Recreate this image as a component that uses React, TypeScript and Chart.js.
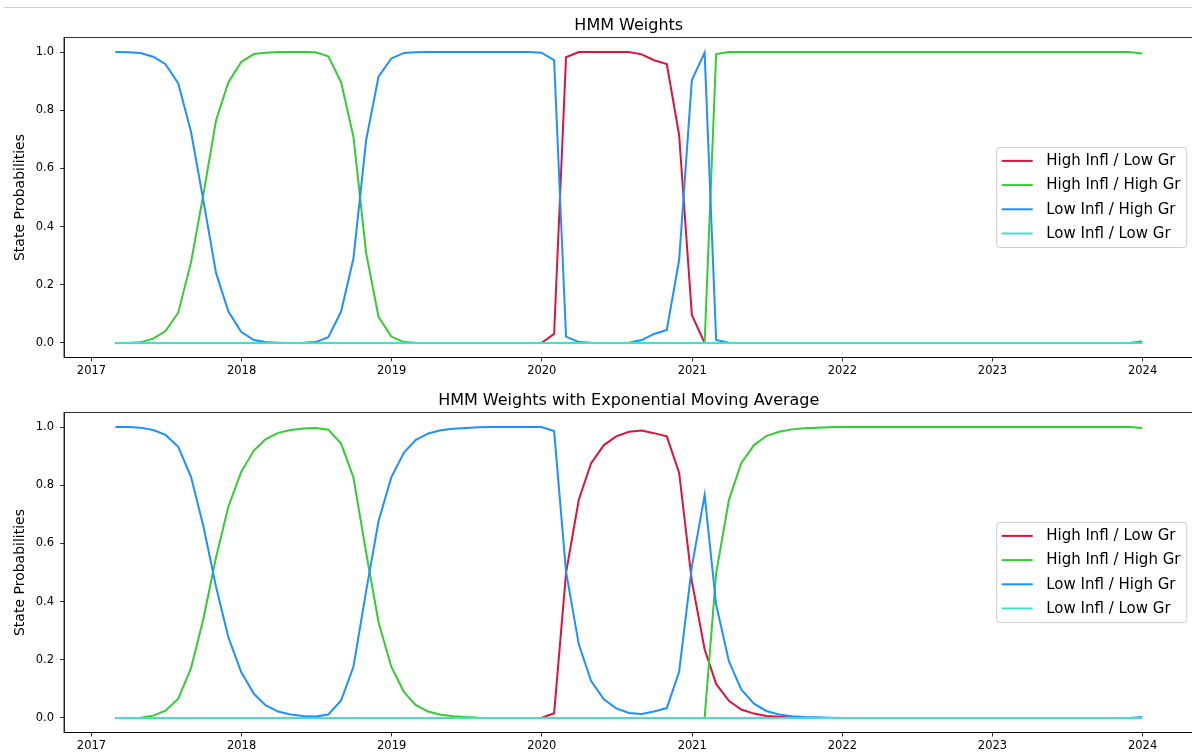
import React, { useEffect, useRef } from "react";
import { Chart, registerables } from "chart.js";
Chart.register(...registerables);

// ---- categories: month-end dates from Feb 2017 to Dec 2023 ----
const START_YEAR = 2017;
const START_MONTH = 2; // February
const N_MONTHS = 83;
const YEAR_TICKS = [2017, 2018, 2019, 2020, 2021, 2022, 2023, 2024];
const Y_TICKS = [0.0, 0.2, 0.4, 0.6, 0.8, 1.0];

const SERIES_NAMES = ["High Infl / Low Gr", "High Infl / High Gr", "Low Infl / High Gr", "Low Infl / Low Gr"];
const SERIES_COLORS = ["#DC143C", "#32CD32", "#1E90FF", "#40E0D0"];

const TITLE_TOP = "HMM Weights";
const TITLE_BOTTOM = "HMM Weights with Exponential Moving Average";
const Y_LABEL = "State Probabilities";

// ---- raw HMM weights ----
const rawHighInflLowGr = [
  0, 0, 0, 0, 0, 0, 0, 0, 0, 0,
  0, 0, 0, 0, 0, 0, 0, 0, 0, 0,
  0, 0, 0, 0, 0, 0, 0, 0, 0, 0,
  0, 0, 0, 0, 0, 0.031, 0.982, 1.0, 1.0, 1.0,
  1.0, 1.0, 0.992, 0.972, 0.959, 0.715, 0.096, 0, 0, 0,
  0, 0, 0, 0, 0, 0, 0, 0, 0, 0,
  0, 0, 0, 0, 0, 0, 0, 0, 0, 0,
  0, 0, 0, 0, 0, 0, 0, 0, 0, 0,
  0, 0, 0,
];
const rawHighInflHighGr = [
  0, 0, 0.002, 0.015, 0.041, 0.104, 0.277, 0.51, 0.766, 0.896,
  0.966, 0.993, 0.998, 1.0, 1.0, 1.0, 0.999, 0.985, 0.896, 0.709,
  0.308, 0.09, 0.022, 0.003, 0.001, 0, 0, 0, 0, 0,
  0, 0, 0, 0, 0, 0, 0, 0, 0, 0,
  0, 0, 0, 0, 0, 0, 0, 0, 0.993, 1.0,
  1.0, 1.0, 1.0, 1.0, 1.0, 1.0, 1.0, 1.0, 1.0, 1.0,
  1.0, 1.0, 1.0, 1.0, 1.0, 1.0, 1.0, 1.0, 1.0, 1.0,
  1.0, 1.0, 1.0, 1.0, 1.0, 1.0, 1.0, 1.0, 1.0, 1.0,
  1.0, 1.0, 0.995,
];
const rawLowInflHighGr = [
  1.0, 0.999, 0.997, 0.984, 0.958, 0.892, 0.726, 0.49, 0.24, 0.108,
  0.038, 0.01, 0.003, 0.001, 0, 0.001, 0.003, 0.02, 0.108, 0.29,
  0.698, 0.915, 0.978, 0.997, 0.999, 1.0, 1.0, 1.0, 1.0, 1.0,
  1.0, 1.0, 1.0, 1.0, 0.998, 0.972, 0.022, 0.003, 0.001, 0,
  0, 0.001, 0.01, 0.031, 0.045, 0.285, 0.904, 0.998, 0.01, 0.001,
  0, 0, 0, 0, 0, 0, 0, 0, 0, 0,
  0, 0, 0, 0, 0, 0, 0, 0, 0, 0,
  0, 0, 0, 0, 0, 0, 0, 0, 0, 0,
  0, 0, 0.005,
];
const rawLowInflLowGr = [
  0, 0, 0, 0, 0, 0, 0, 0, 0, 0,
  0, 0, 0, 0, 0, 0, 0, 0, 0, 0,
  0, 0, 0, 0, 0, 0, 0, 0, 0, 0,
  0, 0, 0, 0, 0, 0, 0, 0, 0, 0,
  0, 0, 0, 0, 0, 0, 0, 0, 0, 0,
  0, 0, 0, 0, 0, 0, 0, 0, 0, 0,
  0, 0, 0, 0, 0, 0, 0, 0, 0, 0,
  0, 0, 0, 0, 0, 0, 0, 0, 0, 0,
  0, 0, 0,
];

// ---- EMA-smoothed weights ----
const emaHighInflLowGr = [
  0, 0, 0, 0, 0, 0, 0, 0, 0, 0,
  0, 0, 0, 0, 0, 0, 0, 0, 0, 0,
  0, 0, 0, 0, 0, 0, 0, 0, 0, 0,
  0, 0, 0, 0, 0, 0.016, 0.499, 0.75, 0.876, 0.938,
  0.968, 0.984, 0.988, 0.979, 0.968, 0.843, 0.47, 0.236, 0.117, 0.059,
  0.029, 0.015, 0.007, 0.004, 0.002, 0.001, 0, 0, 0, 0,
  0, 0, 0, 0, 0, 0, 0, 0, 0, 0,
  0, 0, 0, 0, 0, 0, 0, 0, 0, 0,
  0, 0, 0,
];
const emaHighInflHighGr = [
  0, 0, 0.001, 0.008, 0.025, 0.066, 0.171, 0.34, 0.553, 0.727,
  0.846, 0.919, 0.958, 0.98, 0.99, 0.995, 0.997, 0.991, 0.943, 0.827,
  0.567, 0.33, 0.176, 0.089, 0.045, 0.022, 0.011, 0.006, 0.003, 0.001,
  0, 0, 0, 0, 0, 0, 0, 0, 0, 0,
  0, 0, 0, 0, 0, 0, 0, 0, 0.497, 0.749,
  0.876, 0.938, 0.969, 0.984, 0.992, 0.996, 0.998, 0.999, 1.0, 1.0,
  1.0, 1.0, 1.0, 1.0, 1.0, 1.0, 1.0, 1.0, 1.0, 1.0,
  1.0, 1.0, 1.0, 1.0, 1.0, 1.0, 1.0, 1.0, 1.0, 1.0,
  1.0, 1.0, 0.997,
];
const emaLowInflHighGr = [
  1.0, 1.0, 0.998, 0.99, 0.973, 0.932, 0.829, 0.66, 0.45, 0.277,
  0.158, 0.083, 0.044, 0.022, 0.012, 0.007, 0.005, 0.012, 0.06, 0.176,
  0.437, 0.676, 0.827, 0.912, 0.955, 0.978, 0.989, 0.994, 0.997, 0.999,
  1.0, 1.0, 1.0, 1.0, 1.0, 0.986, 0.503, 0.253, 0.127, 0.064,
  0.033, 0.017, 0.014, 0.022, 0.034, 0.159, 0.52, 0.766, 0.39, 0.195,
  0.098, 0.049, 0.024, 0.012, 0.006, 0.003, 0.002, 0.001, 0, 0,
  0, 0, 0, 0, 0, 0, 0, 0, 0, 0,
  0, 0, 0, 0, 0, 0, 0, 0, 0, 0,
  0, 0, 0.003,
];
const emaLowInflLowGr = [
  0, 0, 0, 0, 0, 0, 0, 0, 0, 0,
  0, 0, 0, 0, 0, 0, 0, 0, 0, 0,
  0, 0, 0, 0, 0, 0, 0, 0, 0, 0,
  0, 0, 0, 0, 0, 0, 0, 0, 0, 0,
  0, 0, 0, 0, 0, 0, 0, 0, 0, 0,
  0, 0, 0, 0, 0, 0, 0, 0, 0, 0,
  0, 0, 0, 0, 0, 0, 0, 0, 0, 0,
  0, 0, 0, 0, 0, 0, 0, 0, 0, 0,
  0, 0, 0,
];

const DAY = 86400000;
const FONT = "'DejaVu Sans', 'Liberation Sans', sans-serif";

function monthEndDays(): number[] {
  const out: number[] = [];
  for (let i = 0; i < N_MONTHS; i++) {
    const m0 = START_MONTH - 1 + i;
    const y = START_YEAR + Math.floor(m0 / 12);
    const m = m0 % 12;
    out.push(Date.UTC(y, m + 1, 0) / DAY);
  }
  return out;
}

const CANVAS_W = 1200;
const CANVAS_H = 378;

function makeChart(canvas: HTMLCanvasElement, series: number[][], title: string) {
  const xs = monthEndDays();
  const first = xs[0];
  const last = xs[xs.length - 1];
  const span = last - first;
  const xMin = first - 0.05 * span;
  const xMax = last + 0.05 * span;

  const orders = [3, 2, 1, 0];
  const datasets = series.map((vals, k) => ({
    label: SERIES_NAMES[k],
    data: vals.map((v, i) => ({ x: xs[i], y: v })),
    borderColor: SERIES_COLORS[k],
    backgroundColor: SERIES_COLORS[k],
    borderWidth: 2,
    pointRadius: 0,
    tension: 0,
    fill: false,
    order: orders[k],
  }));

  const deco = {
    id: "deco",
    afterDraw(chart: any) {
      const { ctx, chartArea } = chart;
      const { left, right, top, bottom } = chartArea;
      ctx.save();
      // frame
      ctx.strokeStyle = "#000";
      ctx.lineWidth = 0.8;
      ctx.strokeRect(left, top, right - left, bottom - top);
      // title
      ctx.fillStyle = "#000";
      ctx.font = `16px ${FONT}`;
      ctx.textAlign = "center";
      ctx.textBaseline = "alphabetic";
      ctx.fillText(title, (left + right) / 2, top - 7.5);
      // y label
      ctx.save();
      ctx.translate(20, (top + bottom) / 2);
      ctx.rotate(-Math.PI / 2);
      ctx.font = `14px ${FONT}`;
      ctx.textAlign = "center";
      ctx.textBaseline = "middle";
      ctx.fillText(Y_LABEL, 0, 0);
      ctx.restore();
      // legend
      const boxW = 190;
      const boxH = 100;
      const boxR = right - 6.8;
      const boxL = boxR - boxW;
      const cy = (top + bottom) / 2;
      const boxT = cy - boxH / 2;
      const r = 3;
      ctx.beginPath();
      ctx.moveTo(boxL + r, boxT);
      ctx.lineTo(boxR - r, boxT);
      ctx.arcTo(boxR, boxT, boxR, boxT + r, r);
      ctx.lineTo(boxR, boxT + boxH - r);
      ctx.arcTo(boxR, boxT + boxH, boxR - r, boxT + boxH, r);
      ctx.lineTo(boxL + r, boxT + boxH);
      ctx.arcTo(boxL, boxT + boxH, boxL, boxT + boxH - r, r);
      ctx.lineTo(boxL, boxT + r);
      ctx.arcTo(boxL, boxT, boxL + r, boxT, r);
      ctx.closePath();
      ctx.fillStyle = "rgba(255,255,255,0.8)";
      ctx.fill();
      ctx.strokeStyle = "#cccccc";
      ctx.lineWidth = 1;
      ctx.stroke();
      ctx.font = `15px ${FONT}`;
      ctx.textAlign = "left";
      ctx.textBaseline = "middle";
      SERIES_NAMES.forEach((name, k) => {
        const ry = cy - 36.6 + k * 24.2;
        ctx.strokeStyle = SERIES_COLORS[k];
        ctx.lineWidth = 2;
        ctx.beginPath();
        ctx.moveTo(boxL + 5, ry);
        ctx.lineTo(boxL + 36, ry);
        ctx.stroke();
        ctx.fillStyle = "#000";
        ctx.fillText(name, boxL + 49.5, ry + 0.5);
      });
      ctx.restore();
    },
  };

  return new Chart(canvas, {
    type: "line",
    data: { datasets },
    plugins: [deco],
    options: {
      animation: false,
      responsive: false,
      maintainAspectRatio: false,
      parsing: true,
      layout: { padding: { top: 37.5, left: 0, right: CANVAS_W - 1193.5, bottom: 0 } },
      plugins: { legend: { display: false }, tooltip: { enabled: false }, title: { display: false } },
      scales: {
        x: {
          type: "linear",
          min: xMin,
          max: xMax,
          afterBuildTicks: (s: any) => {
            s.ticks = YEAR_TICKS.map((y) => ({ value: Date.UTC(y, 0, 1) / DAY }));
          },
          afterFit: (s: any) => {
            s.height = CANVAS_H - 357.5;
          },
          ticks: {
            autoSkip: false,
            maxRotation: 0,
            padding: 3,
            color: "#000",
            font: { family: FONT, size: 11.5 },
            callback: (v: any) => String(new Date(Number(v) * DAY).getUTCFullYear()),
          },
          grid: { drawOnChartArea: false, drawTicks: true, tickLength: 4, color: "#000", lineWidth: 0.8 },
          border: { display: true, color: "#000", width: 0.8 },
        },
        y: {
          type: "linear",
          min: -0.05,
          max: 1.05,
          afterBuildTicks: (s: any) => {
            s.ticks = Y_TICKS.map((v) => ({ value: v }));
          },
          afterFit: (s: any) => {
            s.width = 64;
          },
          ticks: {
            padding: 6,
            color: "#000",
            font: { family: FONT, size: 11.5 },
            callback: (v: any) => Number(v).toFixed(1),
          },
          grid: { drawOnChartArea: false, drawTicks: true, tickLength: 4, color: "#000", lineWidth: 0.8 },
          border: { display: true, color: "#000", width: 0.8 },
        },
      },
    },
  } as any);
}

export default function App() {
  const topRef = useRef<HTMLCanvasElement | null>(null);
  const botRef = useRef<HTMLCanvasElement | null>(null);

  useEffect(() => {
    const c1 = makeChart(
      topRef.current!,
      [rawHighInflLowGr, rawHighInflHighGr, rawLowInflHighGr, rawLowInflLowGr],
      TITLE_TOP
    );
    const c2 = makeChart(
      botRef.current!,
      [emaHighInflLowGr, emaHighInflHighGr, emaLowInflHighGr, emaLowInflLowGr],
      TITLE_BOTTOM
    );
    return () => {
      c1.destroy();
      c2.destroy();
    };
  }, []);

  return (
    <div
      style={{
        position: "absolute",
        left: 0,
        top: 0,
        width: 1192,
        height: 753,
        overflow: "hidden",
        background: "#fff",
      }}
    >
      <div style={{ position: "absolute", left: 4, top: 7, width: 1188, height: 1, background: "#d0d0d0" }} />
      <canvas
        ref={topRef}
        width={CANVAS_W}
        height={CANVAS_H}
        style={{ position: "absolute", left: 0, top: 0, width: CANVAS_W, height: CANVAS_H }}
      />
      <canvas
        ref={botRef}
        width={CANVAS_W}
        height={CANVAS_H}
        style={{ position: "absolute", left: 0, top: 375, width: CANVAS_W, height: CANVAS_H }}
      />
    </div>
  );
}
